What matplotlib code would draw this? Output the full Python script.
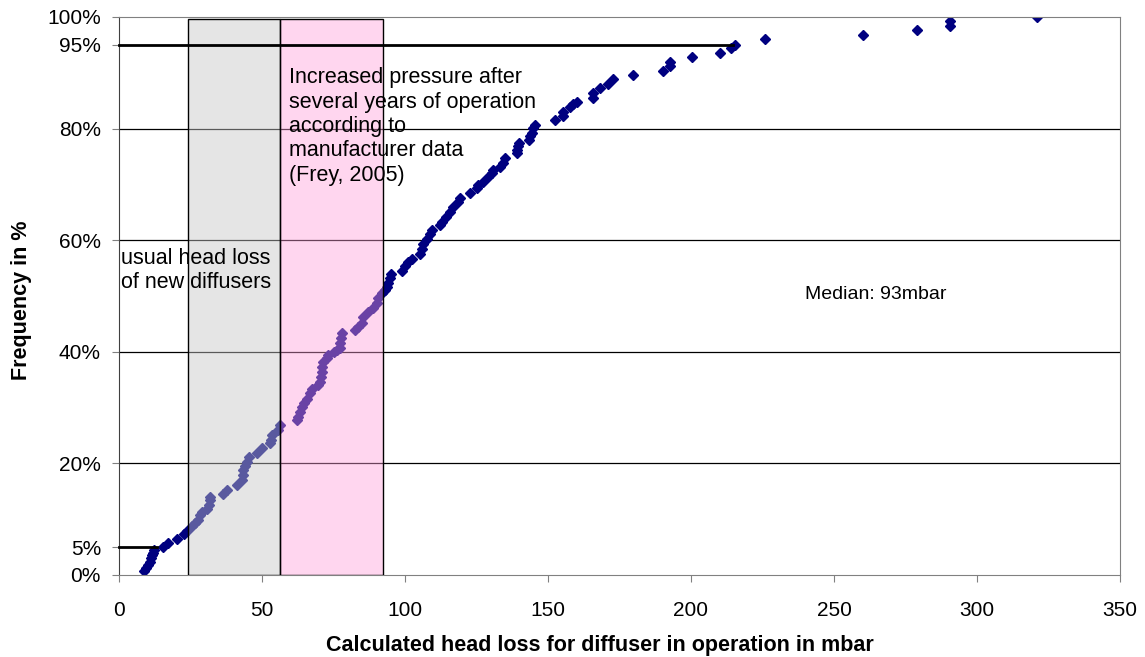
import matplotlib
matplotlib.use("Agg")
import matplotlib.pyplot as plt
from matplotlib.patches import Rectangle

plt.rcParams['font.family'] = ['Liberation Sans', 'DejaVu Sans']

# head loss values (mbar) and cumulative frequency (%)
head_loss = [8.9, 9.4, 10.3, 10.8, 11.2, 11.5, 12.0, 12.2, 15.5, 17.2,
             20.2, 22.8, 23.7, 25.4, 26.6, 27.7, 28.3, 28.9, 30.9, 31.5,
             31.8, 31.8, 36.5, 37.6, 41.1, 42.9, 43.2, 43.2, 44.1, 44.7,
             45.5, 48.1, 49.9, 52.8, 53.1, 53.6, 55.7, 56.3, 62.1, 62.7,
             63.3, 63.9, 64.7, 65.6, 66.8, 67.6, 69.7, 70.3, 70.6, 70.9,
             71.1, 71.4, 72.6, 73.2, 75.2, 76.1, 77.3, 77.3, 77.6, 78.1,
             82.5, 83.7, 84.9, 85.4, 87.2, 88.9, 90.1, 90.7, 91.8, 93.0,
             93.6, 94.2, 94.8, 95.1, 98.8, 100.0, 101.2, 102.3, 105.2, 105.8,
             106.4, 107.6, 108.7, 109.3, 112.2, 112.8, 114.3, 115.7, 116.9, 118.6,
             119.2, 122.7, 125.0, 125.6, 127.4, 129.1, 130.3, 130.9, 133.2, 134.1,
             134.9, 139.0, 139.2, 139.6, 139.9, 143.2, 143.7, 144.3, 144.9, 145.5,
             152.4, 155.3, 155.3, 157.7, 158.8, 160.0, 165.8, 165.8, 168.2, 171.1,
             172.8, 179.8, 190.3, 192.7, 192.7, 200.4, 210.2, 214.0, 215.4, 225.9,
             260.0, 279.0, 290.6, 290.6, 321.0]
frequency = [0.7, 1.2, 1.8, 2.4, 3.0, 3.5, 4.0, 4.4, 5.0, 5.7,
             6.4, 7.3, 7.9, 8.8, 9.3, 9.9, 10.8, 11.3, 11.9, 12.5,
             13.4, 14.0, 14.6, 15.2, 16.1, 17.0, 17.9, 18.8, 19.5, 20.3,
             21.2, 21.9, 22.7, 23.6, 24.2, 25.1, 26.0, 26.9, 27.8, 28.4,
             29.3, 30.1, 30.9, 31.6, 32.6, 33.3, 34.1, 34.6, 35.5, 36.4,
             37.3, 38.2, 38.8, 39.4, 39.9, 40.3, 40.6, 41.5, 42.4, 43.3,
             43.9, 44.5, 45.1, 46.3, 47.2, 47.8, 48.7, 49.6, 50.5, 51.1,
             51.7, 52.4, 53.2, 53.9, 54.4, 55.3, 56.1, 56.7, 57.6, 58.5,
             59.4, 60.3, 61.2, 61.8, 62.7, 63.3, 64.2, 65.1, 66.0, 66.9,
             67.5, 68.4, 69.3, 69.9, 70.5, 71.4, 72.0, 72.6, 73.2, 73.9,
             74.7, 75.6, 76.2, 76.8, 77.4, 78.0, 78.6, 79.2, 80.1, 80.7,
             81.5, 82.2, 83.0, 83.8, 84.4, 84.8, 85.4, 86.3, 87.2, 88.0,
             88.8, 89.6, 90.4, 91.2, 92.0, 92.8, 93.6, 94.4, 95.0, 96.1,
             96.8, 97.7, 98.4, 99.3, 100.0]

y_ticks = [0, 5, 20, 40, 60, 80, 95, 100]
y_ticklabels = ['0%', '5%', '20%', '40%', '60%', '80%', '95%', '100%']
x_ticks = [0, 50, 100, 150, 200, 250, 300, 350]
grid_levels = [20, 40, 60, 80]

# reference ranges
new_range = (24.0, 56.3)
aged_range = (56.3, 92.3)
box_top = 99.6
p95_end = 214.7
p5_end = 13.3

fig = plt.figure(figsize=(11.45, 6.57), dpi=100)
ax = fig.add_axes([119/1145, 1 - 575/657, (1120-119)/1145, (575-17)/657])

ax.set_xlim(0, 350)
ax.set_ylim(0, 100)

for g in grid_levels:
    ax.axhline(g, color='black', lw=0.9, zorder=1)

ax.plot(head_loss, frequency, linestyle='none', marker='D', ms=4.8,
        color='#000080', mec='#000080', zorder=2)

ax.add_patch(Rectangle((new_range[0], 0), new_range[1]-new_range[0], box_top,
                       facecolor=(0.78, 0.78, 0.78, 0.45), edgecolor='black', lw=1.0, zorder=3))
ax.add_patch(Rectangle((aged_range[0], 0), aged_range[1]-aged_range[0], box_top,
                       facecolor=(1.0, 0.62, 0.85, 0.42), edgecolor='black', lw=1.0, zorder=3))

ax.plot([0, p95_end], [95, 95], color='black', lw=2.0, zorder=4, clip_on=False)
ax.plot([0, p5_end], [5, 5], color='black', lw=2.0, zorder=4, clip_on=False)

ax.set_yticks(y_ticks)
ax.set_yticklabels(y_ticklabels)
ax.set_xticks(x_ticks)
ax.tick_params(axis='both', direction='out', length=5, width=0.8, labelsize=15,
               color='#808080')
ax.tick_params(axis='y', pad=8)
ax.tick_params(axis='x', pad=14)
for side in ['top', 'right', 'bottom']:
    ax.spines[side].set_color('#808080')
ax.spines['left'].set_color('#404040')

fig.text(600/1145, 1 - 645/657, 'Calculated head loss for diffuser in operation in mbar',
         fontsize=15.5, fontweight='bold', ha='center', va='center')
fig.text(22/1145, 1 - 300/657, 'Frequency in %', fontsize=15.5, fontweight='bold',
         ha='center', va='center', rotation=90)

ax.text(59.4, 91.0, 'Increased pressure after\nseveral years of operation\naccording to\nmanufacturer data\n(Frey, 2005)',
        fontsize=15.5, va='top', ha='left', linespacing=1.21, zorder=5)
ax.text(0.7, 58.6, 'usual head loss\nof new diffusers', fontsize=15.5, va='top', ha='left',
        linespacing=1.21, zorder=5)
ax.text(240, 50.3, 'Median: 93mbar', fontsize=14, va='center', ha='left', zorder=5)

fig.savefig('out.png', dpi=100)
